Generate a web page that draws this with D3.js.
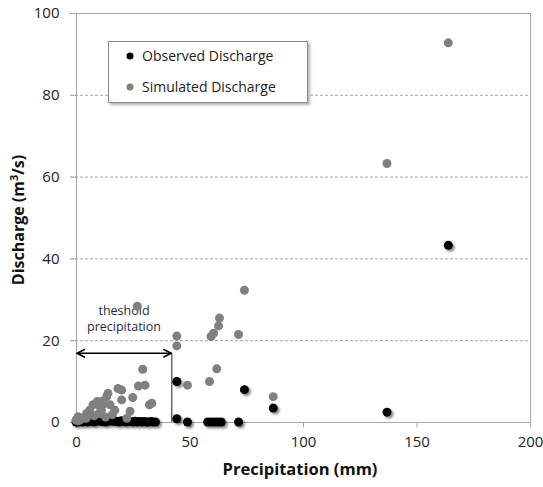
<!doctype html>
<html>
  <head>
    <script src="https://cdnjs.cloudflare.com/ajax/libs/d3/7.8.5/d3.min.js"></script>
    <style>
      body { margin: 0; background: #fff; }
      text { font-family: "Open Sans", Lato, sans-serif; }
    </style>
  </head>
  <body>
    <svg width="543" height="487"></svg>
    <script>
        // precipitation (mm) and discharge (m3/s)
        var obsX = [0, 0.5, 1, 2, 3, 4, 5, 6, 7, 8, 9, 10, 11, 12, 13, 14, 15, 16, 17, 18, 19, 20,
                    21, 22, 23, 24, 25, 26, 27, 28, 29, 30, 31, 32, 33, 34, 35,
                    44.4, 44.4, 49.1, 58, 59.5, 61, 62.5, 64, 71.6, 74.2, 86.9, 137, 164];
        var obsY = [0, 0.2, 0, 0.1, 0, 0.2, 0, 0.1, 0.3, 0, 0.2, 0.4, 0.1, 0.3, 0, 0.4, 0.2, 0.3, 0.1, 0.2, 0, 0.3,
                    0.1, 0, 0.2, 0.1, 0, 0.2, 0, 0.1, 0, 0.1, 0, 0, 0.1, 0, 0,
                    9.9, 0.8, 0, 0, 0, 0, 0, 0, 0, 7.9, 3.4, 2.4, 43.2];
        var simX = [164, 137, 74.2, 63.2, 62.8, 60.6, 59.5, 71.6, 44.4, 44.4, 62, 58.8, 49.1, 86.9,
                    27, 29.4, 27.5, 30.4, 18.5, 20.1, 14.1, 13.5, 20.1, 25, 33.4, 32.3, 23.8,
                    9.4, 11.3, 10.6, 7.5, 6, 11.2, 17.1, 4.7, 0.9, 0, 4.5, 22.4, 2, 8, 13, 16,
                    1, 3, 6, 10, 15, 12];
        var simY = [92.7, 63.2, 32.2, 25.4, 23.5, 21.7, 20.9, 21.4, 21.0, 18.6, 13.0, 9.9, 9.0, 6.2,
                    28.3, 12.9, 8.8, 9.0, 8.2, 7.8, 7.0, 6.2, 5.4, 6.0, 4.6, 4.2, 2.6,
                    5.0, 5.0, 3.7, 4.2, 2.9, 2.9, 2.9, 2.1, 1.3, 0.5, 0.9, 0.9, 0.6, 1.5, 1.2, 1.8,
                    0.3, 1.0, 1.8, 2.0, 4.2, 4.4];
        var xTicks = [0, 50, 100, 150, 200];
        var yTicks = [0, 20, 40, 60, 80, 100];
        var thresholdX = 42;
        var thresholdY = 16.8;

        var svg = d3.select("svg");
        var x = d3.scaleLinear().domain([0, 200]).range([76, 530]);
        var y = d3.scaleLinear().domain([0, 100]).range([422, 13]);

        var defs = svg.append("defs");
        var f = defs.append("filter").attr("id", "shadow")
            .attr("x", "-50%").attr("y", "-50%").attr("width", "200%").attr("height", "200%");
        f.append("feDropShadow").attr("dx", 2).attr("dy", 2)
            .attr("stdDeviation", 1.3).attr("flood-color", "#000").attr("flood-opacity", 0.45);
        var f2 = defs.append("filter").attr("id", "boxshadow")
            .attr("x", "-10%").attr("y", "-10%").attr("width", "130%").attr("height", "140%");
        f2.append("feDropShadow").attr("dx", 2).attr("dy", 2)
            .attr("stdDeviation", 1.5).attr("flood-color", "#000").attr("flood-opacity", 0.3);

        // gridlines
        svg.append("g").selectAll("line")
            .data(yTicks.filter(d => d > 0 && d < 100))
            .enter().append("line")
                .attr("x1", 70).attr("x2", 530)
                .attr("y1", d => y(d) + 0.5).attr("y2", d => y(d) + 0.5)
                .attr("stroke", "#a6a6a6").attr("stroke-dasharray", "3,2");

        // plot frame
        svg.append("path")
            .attr("d", "M70," + (y(100) + 0.5) + "H" + (x(200) + 0.5) + "V" + (y(0) + 0.5) +
                  "M" + (x(0) + 0.5) + "," + y(100) + "V" + (y(0) + 0.5))
            .attr("fill", "none").attr("stroke", "#a6a6a6");

        // x axis
        var xAxis = svg.append("g").attr("transform", "translate(0," + (y(0) + 0.5) + ")")
            .call(d3.axisBottom(x).tickValues(xTicks).tickSize(5).tickPadding(9));
        xAxis.select(".domain").attr("stroke", "#a6a6a6").attr("d", "M70,0H" + (x(200) + 0.5));
        xAxis.selectAll(".tick line").attr("stroke", "#a6a6a6");
        xAxis.selectAll(".tick text").attr("fill", "#222").style("font-size", "15px")
            .style("font-family", "'Open Sans', sans-serif");

        // y axis
        var yAxis = svg.append("g").attr("transform", "translate(" + (x(0) + 0.5) + ",0)")
            .call(d3.axisLeft(y).tickValues(yTicks).tickSize(6).tickPadding(11));
        yAxis.select(".domain").remove();
        yAxis.selectAll(".tick line").attr("stroke", "#a6a6a6");
        yAxis.selectAll(".tick text").attr("fill", "#222").style("font-size", "15px")
            .style("font-family", "'Open Sans', sans-serif");

        // axis titles
        svg.append("text").attr("x", 300).attr("y", 475).attr("text-anchor", "middle")
            .style("font-size", "16.5px").style("font-weight", "bold").attr("fill", "#111")
            .text("Precipitation (mm)");
        var yt = svg.append("text").attr("transform", "translate(24,220) rotate(-90)")
            .attr("text-anchor", "middle")
            .style("font-size", "16px").style("font-weight", "bold").attr("fill", "#111");
        yt.append("tspan").text("Discharge (m");
        yt.append("tspan").attr("dy", -6).style("font-size", "11px").text("3");
        yt.append("tspan").attr("dy", 6).text("/s)");

        // threshold annotation
        defs.append("marker").attr("id", "arr").attr("viewBox", "0 0 10 10")
            .attr("refX", 9).attr("refY", 5).attr("markerWidth", 10).attr("markerHeight", 10)
            .attr("markerUnits", "userSpaceOnUse").attr("orient", "auto-start-reverse")
            .append("path").attr("d", "M1,1L9,5L1,9").attr("fill", "none")
            .attr("stroke", "#000").attr("stroke-width", 1.5);
        svg.append("line")
            .attr("x1", x(thresholdX) + 0.5).attr("x2", x(thresholdX) + 0.5)
            .attr("y1", y(thresholdY)).attr("y2", y(0))
            .attr("stroke", "#222").attr("stroke-width", 1);
        svg.append("line")
            .attr("x1", x(0) + 1).attr("x2", x(thresholdX))
            .attr("y1", y(thresholdY)).attr("y2", y(thresholdY))
            .attr("stroke", "#000").attr("stroke-width", 1.6)
            .attr("marker-start", "url(#arr)").attr("marker-end", "url(#arr)");
        var note = svg.append("text").attr("text-anchor", "middle")
            .style("font-size", "12.5px").attr("fill", "#1f2a44");
        note.append("tspan").attr("x", 124).attr("y", 315).text("theshold");
        note.append("tspan").attr("x", 124).attr("dy", 16).text("precipitation");

        // points
        var obs = obsX.map((d, i) => [d, obsY[i]]);
        var sim = simX.map((d, i) => [d, simY[i]]);
        svg.append("g").attr("filter", "url(#shadow)").selectAll("circle")
            .data(obs).enter().append("circle")
                .attr("cx", d => x(d[0])).attr("cy", d => y(d[1]))
                .attr("r", 4.5).attr("fill", "#000");
        svg.append("g").selectAll("circle")
            .data(sim).enter().append("circle")
                .attr("cx", d => x(d[0])).attr("cy", d => y(d[1]))
                .attr("r", 4.5).attr("fill", "#808080");

        // legend
        var lg = svg.append("g");
        lg.append("rect").attr("x", 108.5).attr("y", 41.5).attr("width", 199).attr("height", 61)
            .attr("fill", "#fff").attr("stroke", "#8c8c8c").attr("filter", "url(#boxshadow)");
        var items = [["Observed Discharge", "#000"], ["Simulated Discharge", "#808080"]];
        items.forEach(function(it, i) {
            var cy = 56 + i * 31;
            lg.append("circle").attr("cx", 130).attr("cy", cy).attr("r", 3.5).attr("fill", it[1]);
            lg.append("text").attr("x", 142).attr("y", cy + 5)
                .style("font-size", "14px").attr("fill", "#222").text(it[0]);
        });
    </script>
  </body>
</html>
